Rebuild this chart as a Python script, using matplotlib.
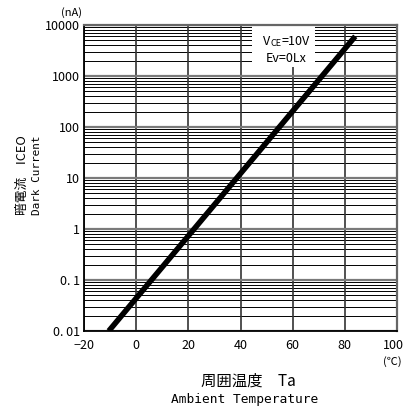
import matplotlib
matplotlib.use("Agg")
import matplotlib.pyplot as plt
import matplotlib.transforms as mtransforms
from matplotlib.ticker import FixedLocator, NullFormatter
from matplotlib.patches import Rectangle

plt.rcParams['font.family'] = ['Noto Sans CJK JP', 'DejaVu Sans']

# data
temp = [-10.5, 84.0]
dark_current = [0.01, 6000.0]
x_ticks = [-20, 0, 20, 40, 60, 80, 100]
x_labels = ['−20', '0', '20', '40', '60', '80', '100']
y_ticks = [0.01, 0.1, 1, 10, 100, 1000, 10000]
y_labels = ['0. 01', '0. 1', '1', '10', '100', '1000', '10000']

W, H = 405, 412
fig = plt.figure(figsize=(W / 100, H / 100), dpi=100)
ax = fig.add_axes([84 / W, 1 - 331 / H, (397 - 84) / W, (331 - 25) / H])
ax.set_yscale('log')
ax.set_xlim(-20, 100)
ax.set_ylim(0.01, 10000)

# grid
minor = [m * 10.0 ** e for e in range(-2, 4) for m in range(2, 10)]
for v in minor:
    ax.axhline(v, color='black', lw=0.7, zorder=1)
for v in y_ticks:
    ax.axhline(v, color='#7a7a7a', lw=1.6, zorder=1.2)
for v in x_ticks:
    ax.axvline(v, color='#333333', lw=1.2, zorder=1.1)

ax.set_xticks(x_ticks)
ax.set_xticklabels(x_labels, fontsize=9)
ax.yaxis.set_major_locator(FixedLocator(y_ticks))
ax.yaxis.set_minor_locator(FixedLocator([]))
ax.yaxis.set_minor_formatter(NullFormatter())
ax.set_yticklabels(y_labels, fontsize=9)
ax.tick_params(axis='both', length=0, pad=3)
ax.tick_params(axis='x', pad=6)
last = ax.get_xticklabels()[-1]
last.set_transform(last.get_transform() + mtransforms.ScaledTranslation(-4 / 100, 0, fig.dpi_scale_trans))
for s in ['left', 'bottom']:
    ax.spines[s].set_color('black')
    ax.spines[s].set_linewidth(1.3)
for s in ['top', 'right']:
    ax.spines[s].set_color('#666666')
    ax.spines[s].set_linewidth(1.6)

# white box for conditions
ax.add_patch(Rectangle((44.4, 1500), 24.1, 10000 - 1500, facecolor='white',
                       edgecolor='none', zorder=2))
t1 = ax.text(48.8, 10 ** 3.6, 'V', fontsize=9, ha='left', va='baseline', zorder=3)
t2 = ax.annotate('CE', xy=(1, 0), xycoords=t1, fontsize=6.5, va='bottom', ha='left', zorder=3)
ax.annotate('=10V', xy=(1, 0), xycoords=t2, fontsize=9, va='bottom', ha='left', zorder=3)
ax.text(57.5, 10 ** 3.27, 'Ev=0Lx', fontsize=9, ha='center', va='baseline', zorder=3)

ax.plot(temp, dark_current, color='black', lw=4, solid_capstyle='butt', zorder=4)

fig.text(72 / W, 1 - 13 / H, '(nA)', fontsize=8, ha='center', va='center')
fig.text(392 / W, 1 - 362 / H, '(℃)', fontsize=8, ha='center', va='center')
texts = []
texts.append((fig.text(248 / W, 1 - 381 / H, '周囲温度　Ta', fontsize=11, ha='center', va='center'), 95, 'w'))
texts.append((fig.text(245 / W, 1 - 399 / H, 'Ambient Temperature', fontsize=9.5, ha='center', va='center',
                       family=['DejaVu Sans Mono']), 149, 'w'))
texts.append((fig.text(22 / W, 1 - 175 / H, '暗電流　ICEO', fontsize=9.5, ha='center', va='center',
                       rotation=90), 80, 'h'))
texts.append((fig.text(37 / W, 1 - 175 / H, 'Dark Current', fontsize=8, ha='center', va='center',
                       rotation=90, family=['DejaVu Sans Mono']), 80, 'h'))

# fit text lengths to reference pixel lengths
fig.canvas.draw()
r = fig.canvas.get_renderer()
for t, target, dim in texts:
    bb = t.get_window_extent(r)
    cur = bb.width if dim == 'w' else bb.height
    if cur > 0:
        t.set_fontsize(t.get_fontsize() * target / cur)

fig.savefig('out.png', dpi=100)
